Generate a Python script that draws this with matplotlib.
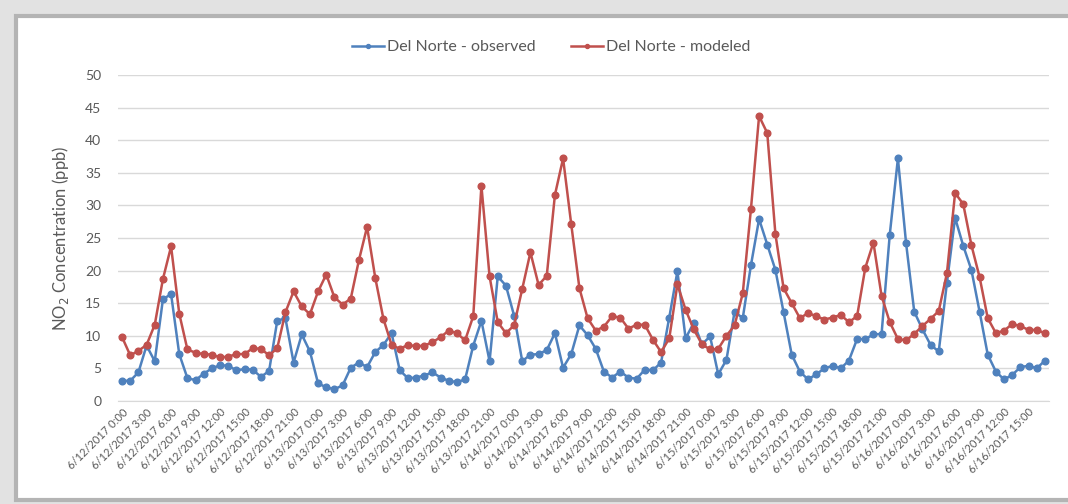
import numpy as np
import pandas as pd
import matplotlib
matplotlib.use("Agg")
import matplotlib.pyplot as plt
from matplotlib.patches import Rectangle
from matplotlib.transforms import ScaledTranslation

# hourly values, 6/12/2017 0:00 .. 6/16/2017 17:00
observed = [3.1, 3.1, 4.4, 8.5, 6.1, 15.6, 16.4, 7.2, 3.5, 3.2, 4.2, 5.0,
            5.5, 5.4, 4.7, 4.9, 4.8, 3.7, 4.6, 12.3, 12.7, 5.9, 10.2, 7.6,
            2.7, 2.1, 1.8, 2.4, 5.1, 5.9, 5.2, 7.5, 8.6, 10.4, 4.7, 3.5,
            3.6, 3.9, 4.4, 3.6, 3.1, 2.9, 3.3, 8.5, 12.3, 6.1, 19.1, 17.7,
            13.1, 6.1, 7.1, 7.2, 7.8, 10.4, 5.1, 7.2, 11.6, 10.1, 8.0, 4.5,
            3.6, 4.5, 3.6, 3.4, 4.8, 4.7, 5.9, 12.8, 19.9, 9.6, 12.0, 8.7,
            9.9, 4.1, 6.3, 13.7, 12.7, 20.8, 27.9, 24.0, 20.1, 13.6, 7.1, 4.5,
            3.3, 4.1, 5.0, 5.4, 5.0, 6.2, 9.5, 9.5, 10.2, 10.3, 25.5, 37.2,
            24.2, 13.7, 11.0, 8.6, 7.6, 18.1, 28.1, 23.8, 20.1, 13.7, 7.1, 4.5,
            3.3, 4.0, 5.2, 5.4, 5.0, 6.2]
modeled = [9.8, 7.0, 7.7, 8.6, 11.7, 18.7, 23.7, 13.4, 7.9, 7.4, 7.2, 7.1,
           6.7, 6.8, 7.2, 7.2, 8.1, 8.0, 7.0, 8.1, 13.6, 16.8, 14.5, 13.3,
           16.8, 19.4, 15.9, 14.8, 15.7, 21.6, 26.7, 18.9, 12.6, 8.6, 8.0, 8.6,
           8.4, 8.5, 9.0, 9.8, 10.8, 10.4, 9.3, 13.0, 33.0, 19.1, 12.1, 10.4,
           11.6, 17.2, 22.8, 17.8, 19.2, 31.6, 37.2, 27.1, 17.3, 12.7, 10.8, 11.4,
           13.0, 12.8, 11.1, 11.7, 11.7, 9.4, 7.5, 9.6, 17.9, 14.0, 11.0, 8.7,
           7.9, 8.0, 10.0, 11.6, 16.5, 29.4, 43.7, 41.1, 25.6, 17.3, 15.0, 12.7,
           13.5, 13.0, 12.5, 12.8, 13.2, 12.1, 13.0, 20.4, 24.3, 16.1, 12.1, 9.5,
           9.3, 10.3, 11.5, 12.6, 13.8, 19.6, 31.9, 30.2, 23.9, 19.0, 12.7, 10.4,
           10.8, 11.8, 11.5, 10.9, 10.9, 10.4]

times = pd.date_range("2017-06-12 00:00", periods=len(observed), freq="h")
labels = [f"{t.month}/{t.day}/{t.year} {t.hour}:00" for t in times]

plt.rcParams['font.family'] = ['Lato', 'DejaVu Sans']
grey = '#595959'
blue = '#4f81bd'
red = '#c0504d'

fig = plt.figure(figsize=(10.68, 5.04), dpi=100, facecolor='#e2e2e2')
fig.patches.append(Rectangle((16/1068, 4/504), 1.0, 484/504, transform=fig.transFigure,
                             facecolor='white', edgecolor='#b4b4b4', linewidth=3, zorder=-10))

ax = fig.add_axes([118/1068, 1 - 401/504, 931/1068, 326/504])
ax.set_facecolor('none')
x = np.arange(len(observed))
ax.plot(x, observed, color=blue, lw=1.8, marker='o', ms=4.8, label='Del Norte - observed')
ax.plot(x, modeled, color=red, lw=1.8, marker='o', ms=4.8, label='Del Norte - modeled')

ax.set_xlim(-0.5, len(observed) - 0.5)
ax.set_ylim(0, 50)
ax.set_yticks(np.arange(0, 51, 5))
ax.set_xticks(x[::3])
ax.set_xticklabels(labels[::3], rotation=45, ha='right', rotation_mode='anchor',
                   fontsize=8, color=grey)
shift = ScaledTranslation(-6/100, -4/100, fig.dpi_scale_trans)
for lab in ax.get_xticklabels():
    lab.set_transform(lab.get_transform() + shift)
ax.tick_params(axis='y', length=0, labelsize=10, labelcolor=grey, pad=12)
ax.tick_params(axis='x', length=0, pad=4)
ax.grid(axis='y', color='#d9d9d9', lw=1)
ax.set_axisbelow(True)
for s in ['top', 'right', 'left']:
    ax.spines[s].set_visible(False)
ax.spines['bottom'].set_color('#d9d9d9')

ax.set_ylabel('NO$_2$ Concentration (ppb)', fontsize=12, color=grey, labelpad=10)

ax.legend(loc='lower center', bbox_to_anchor=(0.465, 1.02), ncol=2, frameon=False,
          fontsize=11.5, labelcolor=grey, markerscale=0.6, handlelength=2,
          handletextpad=0.2, columnspacing=2.2)

plt.savefig('out.png', dpi=100, facecolor=fig.get_facecolor())
